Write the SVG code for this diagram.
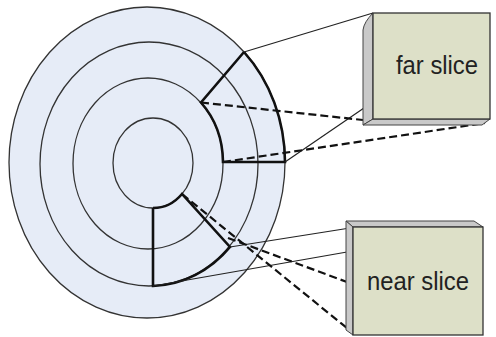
<svg xmlns="http://www.w3.org/2000/svg" width="496" height="337" viewBox="0 0 496 337">
<style>
.ring{fill:none;stroke:#333;stroke-width:1.3}
.edge{fill:none;stroke:#111;stroke-width:2.6}
.solid{fill:none;stroke:#222;stroke-width:1.2}
.dash{fill:none;stroke:#111;stroke-width:2.2;stroke-dasharray:8 4}
.front{fill:#DDE0C8;stroke:#333;stroke-width:1.3}
.side{fill:#C9C9C9;stroke:#444;stroke-width:1}
.lbl{font-family:"Liberation Sans",Arial,sans-serif;font-size:25px;fill:#222;text-anchor:middle}
</style>
<g id="disc">
<ellipse cx="147" cy="162.5" rx="138" ry="155.5" fill="#E6ECF7" stroke="#333" stroke-width="1.3"/>
<ellipse class="ring" cx="149" cy="164" rx="109" ry="122"/>
<ellipse class="ring" cx="148" cy="163.5" rx="75" ry="85.5"/>
<ellipse class="ring" cx="153" cy="163" rx="40" ry="45"/>
</g>
<g id="far-region">
<path class="edge" d="M244,52 L201,102.5 A75,85.5 0 0 1 223,162 L285,162 A138,155.5 0 0 0 244,52"/>
</g>
<g id="near-region">
<path class="edge" d="M153,208 L153,286 A109,122 0 0 0 230,247 L182,194 A40,45 0 0 1 153,208"/>
</g>
<g id="connectors">
<line class="solid" x1="244" y1="52" x2="373" y2="13"/>
<line class="solid" x1="285" y1="162" x2="364" y2="108"/>
<line class="dash" x1="201" y1="102.5" x2="363" y2="120"/>
<line class="dash" x1="223" y1="162" x2="485" y2="123"/>
<line class="solid" x1="230" y1="247" x2="350" y2="228"/>
<line class="solid" x1="153" y1="286" x2="347" y2="252"/>
<line class="dash" x1="228" y1="238" x2="347" y2="282"/>
<line class="dash" x1="182" y1="194" x2="353" y2="333"/>
</g>
<g id="far-slice">
<path class="side" d="M373,13 Q364,22 363,30 L363,125 L373,119 Z"/>
<path class="side" d="M373,119 L490,119 L482,125 L363,125 Z"/>
<rect class="front" x="373" y="13" width="117" height="106"/>
<text class="lbl" x="437" y="74" textLength="82" lengthAdjust="spacingAndGlyphs">far slice</text>
</g>
<g id="near-slice">
<path class="side" d="M346,221 L474,221 L483,227 L353,227 Z"/>
<path class="side" d="M346,221 L353,227 L353,335 L346,330 Z"/>
<rect class="front" x="353" y="227" width="130" height="108"/>
<text class="lbl" x="418" y="290" textLength="102" lengthAdjust="spacingAndGlyphs">near slice</text>
</g>
</svg>
